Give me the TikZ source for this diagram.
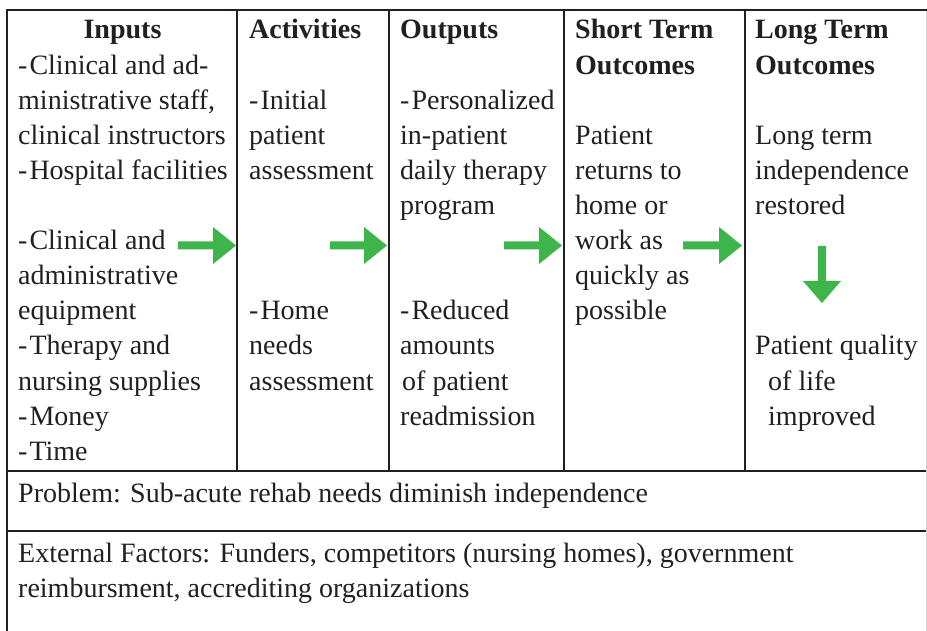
\documentclass[tikz,border=0pt]{standalone}
\usepackage{fontspec}
\setmainfont{Liberation Serif}
\definecolor{ink}{HTML}{231F20}
\definecolor{arrowgreen}{RGB}{61,181,74}
% hyphen used as a list bullet, with a little air after it
\newcommand\hy{-\kern2pt}
% one text line per node, rows sit on a fixed baseline grid
\newcommand\celllines[5][txt]{%
  \foreach \t [count=\i from 0] in {#5}{%
    \node[#1] (#2\i) at (#3, {39+35.1*(#4+\i)}) {\t};}}
% block arrow pointing right: shaft start, tip, centre line
\newcommand\rblock[3]{%
  \fill[arrowgreen] (#1,{#3-4}) -- ({#2-23},{#3-4}) -- ({#2-23},{#3-18.5})
    -- (#2,#3) -- ({#2-23},{#3+18.5}) -- ({#2-23},{#3+4}) -- (#1,{#3+4}) -- cycle;}
\begin{document}
\begin{tikzpicture}[x=1pt,y=-1pt,
  txt/.style={anchor=base west, inner sep=0pt, text=ink,
    font=\fontsize{28}{35}\selectfont},
  hd/.style={txt, font=\fontsize{28}{35}\selectfont\bfseries},
  rule/.style={draw=ink, line width=2.2pt},
  edgeline/.style={draw=black!18, line width=1pt}]
\useasboundingbox (0,0) rectangle (927,631);

% grid of the table
\draw[rule] (7,631) -- (7,10) -- (927,10);
\foreach \x in {237,389,564,745} \draw[rule] (\x,10) -- (\x,471);
\draw[rule] (7,471) -- (927,471);
\draw[rule] (7,531) -- (927,531);
\draw[edgeline] (926,11) -- (926,631);

% Inputs
\node[hd, anchor=base] (inputsHead) at (122.5,39) {Inputs};
\celllines{inA}{18}{1}{{\hy Clinical and ad-},{ministrative staff,},{clinical instructors},{\hy Hospital facilities}}
\celllines{inB}{18}{6}{{\hy Clinical and},{administrative},{equipment},{\hy Therapy and},{nursing supplies},{\hy Money},{\hy Time}}

% Activities
\node[hd] (actHead) at (249,39) {Activities};
\celllines{actA}{249}{2}{{\hy Initial},{patient},{assessment}}
\celllines{actB}{249}{8}{{\hy Home},{needs},{assessment}}

% Outputs
\node[hd] (outHead) at (400,39) {Outputs};
\celllines{outA}{400}{2}{{\hy Personalized},{in-patient},{daily therapy},{program}}
\celllines{outB}{400}{8}{{\hy Reduced},{amounts}}
\celllines{outC}{402}{10}{{of patient}}
\celllines{outD}{400}{11}{{readmission}}

% Short term outcomes
\celllines[hd]{stHead}{575}{0}{{Short Term},{Outcomes}}
\celllines{stA}{575}{3}{{Patient},{returns to},{home or},{work as},{quickly as},{possible}}

% Long term outcomes
\celllines[hd]{ltHead}{755}{0}{{Long Term},{Outcomes}}
\celllines{ltA}{755}{3}{{Long term},{independence},{restored}}
\celllines{ltB}{755}{9}{{Patient quality}}
\celllines{ltC}{768}{10}{{of life},{improved}}

% flow arrows between the columns
\rblock{178}{236}{245.5}
\rblock{330}{387}{245.5}
\rblock{504}{562}{245.5}
\rblock{683}{742}{245.5}
\fill[arrowgreen] (818,246) -- (826,246) -- (826,281) -- (841,281) -- (822,303)
  -- (803,281) -- (818,281) -- cycle;

% lower rows
\node[txt] (problem) at (18,502) {Problem: Sub-acute rehab needs diminish independence};
\node[txt] (ext1) at (18,562) {External Factors: Funders, competitors (nursing homes), government};
\node[txt] (ext2) at (18,597) {reimbursment, accrediting organizations};
\end{tikzpicture}
\end{document}
